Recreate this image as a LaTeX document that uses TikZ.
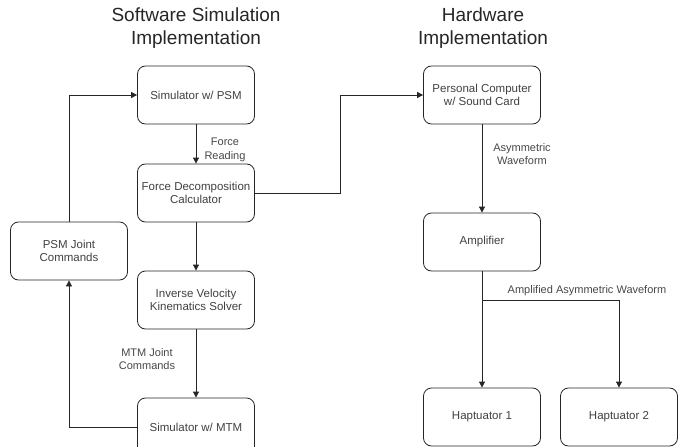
\documentclass[tikz,border=0pt]{standalone}
\usepackage{fontspec}
\setmainfont{Liberation Sans}
\usetikzlibrary{arrows.meta}
\usetikzlibrary{positioning}

\begin{document}
\begin{tikzpicture}[x=1pt,y=-1pt,
	blok/.style={draw=black!85,rounded corners=8pt,line width=0.8pt,minimum width=117pt,minimum height=58pt,align=center,text=black!75,font=\fontsize{11.5}{13.5}\selectfont},
	lbl/.style={align=center,text=black!72,font=\fontsize{11}{13.3}\selectfont},
	ttl/.style={align=center,text=black!85,font=\fontsize{19}{23}\selectfont},
	con/.style={draw=black!85,line width=0.8pt,-{Triangle[length=6pt,width=6pt]}}]
					\useasboundingbox (0,0) rectangle (689,447);
					\clip (0,0) rectangle (689,447);

					\node[ttl] (swtitle) at (196,28) {Software Simulation\\Implementation};
					\node[ttl] (hwtitle) at (483,28) {Hardware\\Implementation};

					\node[blok] (psmsim) at (196,95) {Simulator w/ PSM};
					\node[blok] (fdc) at (196,193) {Force Decomposition\\Calculator};
					\node[blok] (ivk) at (196,300) {Inverse Velocity\\Kinematics Solver};
					\node[blok] (mtmsim) at (196,427) {Simulator w/ MTM};
					\node[blok] (psmjc) at (69,251) {PSM Joint\\Commands};

					\node[blok] (pc) at (482,95) {Personal Computer\\w/ Sound Card};
					\node[blok] (amp) at (482,242) {Amplifier};
					\node[blok] (hap1) at (482,417) {Haptuator 1};
					\node[blok] (hap2) at (619,417) {Haptuator 2};

					\node[lbl] (forcelbl) at (225,150) {Force\\Reading};
					\node[lbl] (mtmlbl) at (147,359) {MTM Joint\\Commands};
					\node[lbl] (asymlbl) at (522,154) {Asymmetric\\Waveform};
					\node[lbl] (amplbl) at (587,291) {Amplified Asymmetric Waveform};

					\coordinate (hop) at (340,0);
					\coordinate (split) at (482,300);

					\draw[con] (psmsim) -- (fdc);
					\draw[con] (fdc) -- (ivk);
					\draw[con] (ivk) -- (mtmsim);
					\draw[con] (mtmsim.west) -| (psmjc.south);
					\draw[con] (psmjc.north) |- (psmsim.west);
					\draw[con] (fdc.east) -- (fdc.east -| hop) |- (pc.west);

					\draw[con] (pc) -- (amp);
					\draw[con] (amp) -- (hap1);
					\draw[con] (split) -| (hap2);

				\end{tikzpicture}
\end{document}
